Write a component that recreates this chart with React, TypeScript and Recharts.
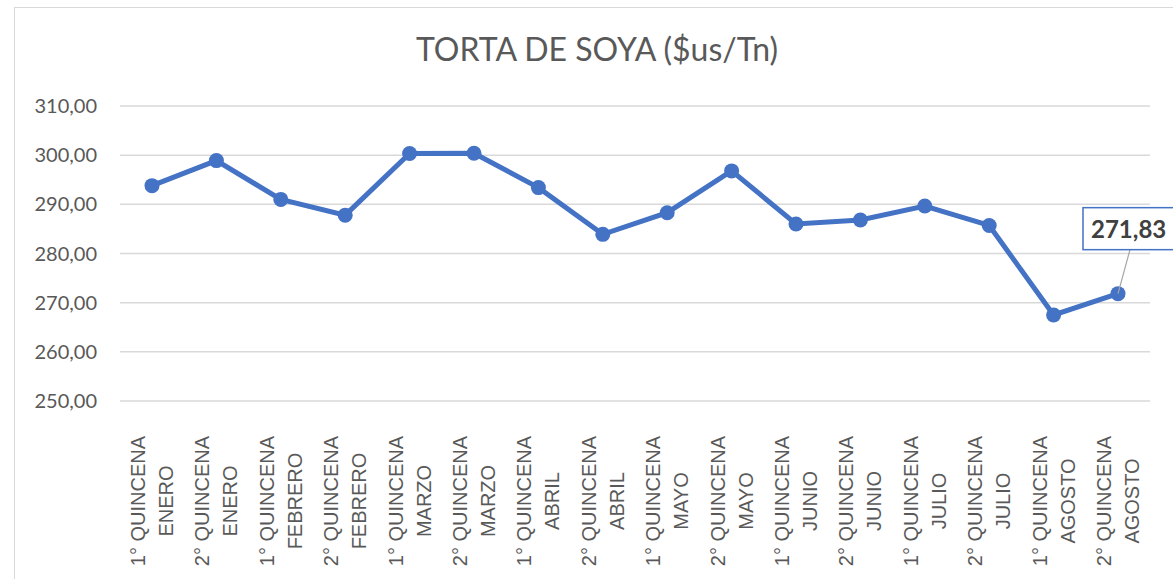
import React from "react";
import { LineChart, Line, XAxis, YAxis, CartesianGrid, LabelList } from "recharts";

const QUINCENAS = [
  "1° QUINCENA", "2° QUINCENA", "1° QUINCENA", "2° QUINCENA",
  "1° QUINCENA", "2° QUINCENA", "1° QUINCENA", "2° QUINCENA",
  "1° QUINCENA", "2° QUINCENA", "1° QUINCENA", "2° QUINCENA",
  "1° QUINCENA", "2° QUINCENA", "1° QUINCENA", "2° QUINCENA",
];

const MONTHS = [
  "ENERO", "ENERO", "FEBRERO", "FEBRERO", "MARZO", "MARZO", "ABRIL", "ABRIL",
  "MAYO", "MAYO", "JUNIO", "JUNIO", "JULIO", "JULIO", "AGOSTO", "AGOSTO",
];

const PRICES = [
  293.8, 298.9, 291.0, 287.8, 300.35, 300.4, 293.4, 283.9,
  288.3, 296.8, 286.0, 286.8, 289.65, 285.7, 267.5, 271.83,
];

const Y_TICKS = [250, 260, 270, 280, 290, 300, 310];

const TITLE = "TORTA DE SOYA ($us/Tn)";

const data = PRICES.map((v, i) => ({
  cat: QUINCENAS[i] + "\n" + MONTHS[i],
  price: v,
}));

const BLUE = "#4472C4";
const GRID = "#d9d9d9";
const TEXT = "#595959";

const fmt = (v: number) => v.toFixed(2).replace(".", ",");

function CategoryTick(props: any) {
  const { x, y, payload } = props;
  const [top, bottom] = String(payload.value).split("\n");
  const cy = y + 98;
  const style = { fontFamily: "Liberation Sans, Arial, sans-serif", fontSize: 20, fill: TEXT };
  return (
    <g>
      <text
        x={x - 14}
        y={cy}
        transform={`rotate(-90, ${x - 14}, ${cy})`}
        textAnchor="middle"
        dominantBaseline="central"
        style={style}
      >
        {top}
      </text>
      <text
        x={x + 14}
        y={cy}
        transform={`rotate(-90, ${x + 14}, ${cy})`}
        textAnchor="middle"
        dominantBaseline="central"
        style={style}
      >
        {bottom}
      </text>
    </g>
  );
}

function LastLabel(props: any) {
  const { x, y, value, index } = props;
  if (index !== PRICES.length - 1) return null;
  return (
    <g>
      <line x1={x + 12} y1={y - 44} x2={x} y2={y} stroke="#a6a6a6" strokeWidth={1.2} />
      <rect x={x - 35} y={y - 86} width={100} height={42} fill="#fff" stroke={BLUE} strokeWidth={1.5} />
      <text
        x={x - 27}
        y={y - 56}
        style={{ fontFamily: "Lato, sans-serif", fontSize: 24, fontWeight: 700, fill: "#404040" }}
      >
        {fmt(value)}
      </text>
    </g>
  );
}

export default function App() {
  return (
    <div
      style={{
        position: "absolute",
        left: 0,
        top: 0,
        width: 1173,
        height: 579,
        overflow: "hidden",
        background: "#fff",
      }}
    >
      <div
        style={{
          position: "absolute",
          left: 14,
          top: 7,
          width: 1220,
          height: 620,
          border: `1.5px solid ${GRID}`,
        }}
      />
      <div
        style={{
          position: "absolute",
          left: 0,
          width: 1194,
          top: 29,
          textAlign: "center",
          fontFamily: "Lato, sans-serif",
          fontSize: 32,
          color: TEXT,
          lineHeight: "40px",
        }}
      >
        {TITLE}
      </div>
      <div style={{ position: "absolute", left: 0, top: 0 }}>
        <LineChart
          width={1173}
          height={579}
          data={data}
          margin={{ top: 106, right: 23, left: 0, bottom: 0 }}
        >
          <CartesianGrid horizontal vertical={false} stroke={GRID} strokeWidth={1.5} />
          <XAxis
            dataKey="cat"
            height={178}
            axisLine={false}
            tickLine={false}
            tickSize={0}
            interval={0}
            padding={{ left: 32, right: 32 }}
            tick={<CategoryTick />}
          />
          <YAxis
            width={120}
            domain={[250, 310]}
            ticks={Y_TICKS}
            axisLine={false}
            tickLine={false}
            tickSize={0}
            tickMargin={23}
            tickFormatter={fmt}
            tick={{ fontFamily: "Lato, sans-serif", fontSize: 20, fill: TEXT }}
          />
          <Line
            type="linear"
            dataKey="price"
            stroke={BLUE}
            strokeWidth={5}
            dot={{ r: 7.5, fill: BLUE, stroke: BLUE, strokeWidth: 0 }}
            isAnimationActive={false}
          >
            <LabelList dataKey="price" content={<LastLabel />} />
          </Line>
        </LineChart>
      </div>
    </div>
  );
}
